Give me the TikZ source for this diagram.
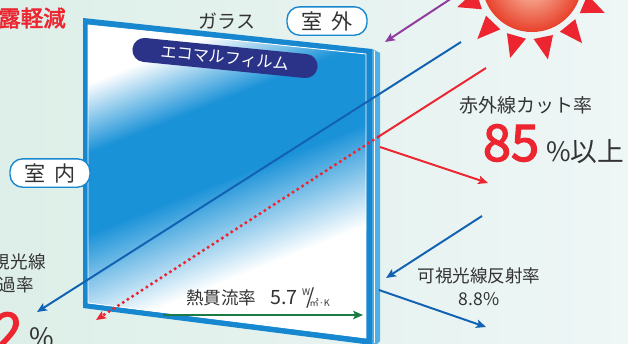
\documentclass[tikz,border=0pt]{standalone}
\usepackage{fontspec}
\usetikzlibrary{arrows.meta}
\newfontfamily\jp{Noto Sans CJK JP}
\newfontfamily\jpbold[FakeBold=2.5]{Noto Sans CJK JP}

\definecolor{bgleft}{HTML}{DDEFE8}
\definecolor{bgright}{HTML}{EEF6F6}
\definecolor{frameblue}{HTML}{1787D0}
\definecolor{sideblue}{HTML}{4FAEE4}
\definecolor{paneblue}{HTML}{1A92D8}
\definecolor{filmnavy}{HTML}{2B3388}
\definecolor{raypurple}{HTML}{8E3A9E}
\definecolor{rayblue}{HTML}{1262B4}
\definecolor{rayred}{HTML}{EC2530}
\definecolor{heatgreen}{HTML}{1B7A45}
\definecolor{sunred}{HTML}{E8402A}
\definecolor{sunlight}{HTML}{FBCDB5}
\definecolor{textgrey}{HTML}{333333}

% unit of the heat transfer value
\newcommand{\wpermk}{\raisebox{0.5em}{\fontsize{6.5}{6.5}\selectfont W}\kern-0.2em
  {\fontsize{15}{15}\selectfont /}\kern-0.3em\raisebox{-0.1em}{\fontsize{6.5}{6.5}\selectfont ㎡·K}}

\begin{document}
\begin{tikzpicture}[x=0.025cm, y=-0.025cm,
    every node/.style={font=\jp\fontsize{12.5}{14}\selectfont, text=textgrey, inner sep=0pt},
    placebox/.style={draw=frameblue, fill=white, line width=1pt, rounded corners=9pt,
      minimum width=2cm, minimum height=0.71cm, font=\jp\fontsize{15}{15}\selectfont},
    filmtag/.style={fill=filmnavy, text=white, rounded corners=0.3cm, minimum width=4.65cm,
      minimum height=0.6cm, rotate=-5.7, font=\jp\fontsize{11.5}{12}\selectfont},
    lightray/.style={line width=1.4pt, arrows={-Stealth[length=7pt,width=6pt,inset=1.5pt]}}]
        \useasboundingbox (0,0) rectangle (628,343);
        \clip (0,0) rectangle (628,343);
        \fill[left color=bgleft, right color=bgright] (0,0) rectangle (628,343);
        % Draw the sun and its rays
        \begin{scope}[shift={(532,-18)}]
          \shade[inner color=sunlight, outer color=sunred] (0,0) circle (1.25cm);
          \foreach \k [evaluate=\k as \a using 23+27.69*\k] in {0,...,12}
            \fill[rayred] (\a-10:57) -- (\a:79) -- (\a+10:57) -- cycle;
        \end{scope}
        % Draw the glass pane (side, frame, filmed face)
        \fill[sideblue] (372,49) -- (380,53) -- (380,341) -- (376,345) -- (372,345) -- cycle;
        \draw[white, line width=0.6pt] (374.5,51) -- (374.5,343);
        \fill[frameblue] (83,18) -- (372,49) -- (372,345) -- (83,308) -- cycle;
        \begin{scope}
          \clip (88,25) -- (366,54) -- (366,338) -- (88,303) -- cycle;
          \fill[white] (88,25) rectangle (366,338);
          % film fade, in thin strips across the face
          \foreach \p in {108,110,...,348} {
            \pgfmathsetmacro\c{max(0,min(100,(\p-110)/0.65,(345-\p)/0.95))}
            \fill[paneblue!\c!white] (60,{(\p-22.2)/0.93}) -- (400,{(\p-148)/0.93})
              -- (400,{(\p-145.4)/0.93}) -- (60,{(\p-19.6)/0.93}) -- cycle;
          }
        \end{scope}
        \draw[white, line width=0.6pt] (88,25) -- (366,54) -- (366,338) -- (88,303) -- cycle;
        % Labels on and around the pane
        \node (glass) at (227,21) {\fontsize{13.5}{14}\selectfont ガラス};
        \node[placebox] (outside) at (327,21) {室\hspace{6pt}外};
        \node[placebox] (inside) at (50,173) {室\hspace{6pt}内};
        \node[filmtag] (film) at (225,58) {エコマルフィルム};
        \node[anchor=east, text=rayred, font=\jpbold\fontsize{16}{16}\selectfont] (fog) at (66,18) {露軽減};
        % Incoming rays (use arrows command to insert arrow of choice)
        \coordinate (uv-start) at (452,-2);
        \coordinate (uv-end) at (385,42);
        \draw[lightray, raypurple] (uv-start) -- (uv-end);
        \coordinate (vis-start) at (461,42);
        \coordinate (vis-end) at (37,312);
        \draw[lightray, rayblue] (vis-start) -- (vis-end);
        \coordinate (ir-start) at (486,68);
        \coordinate (ir-hit) at (378,137);
        \coordinate (ir-end) at (96,320);
        \draw[rayred, line width=1.4pt] (ir-start) -- (ir-hit);
        \draw[rayred, line width=2.5pt, line cap=round, dash pattern=on 0pt off 4pt,
          arrows={-Stealth[length=7pt,width=6pt,inset=1.5pt]}] (ir-hit) -- (ir-end);
        % Reflected rays
        \coordinate (ir-back) at (380,147);
        \coordinate (ir-out) at (488,183);
        \draw[lightray, rayred] (ir-back) -- (ir-out);
        \coordinate (vis-in) at (482,216);
        \coordinate (vis-hit) at (386,278);
        \draw[lightray, rayblue] (vis-in) -- (vis-hit);
        \coordinate (vis-back) at (379,290);
        \coordinate (vis-out) at (486,327);
        \draw[lightray, rayblue] (vis-back) -- (vis-out);
        % Heat flow through the pane
        \coordinate (heat-start) at (163,315);
        \coordinate (heat-end) at (363,315);
        \draw[lightray, heatgreen] (heat-start) -- (heat-end);
        \node (heat-label) at (258,298) {熱貫流率\hspace{10pt}{\fontsize{14}{14}\selectfont 5.7}\hspace{3pt}\wpermk};
        % Values on the outside
        \node (ir-label) at (526,105) {\fontsize{13.5}{14}\selectfont 赤外線カット率};
        \node[font=\jpbold\fontsize{36}{36}\selectfont, text=rayred] (ir-value) at (511,143) {85};
        \node[anchor=west, font=\jp\fontsize{19}{19}\selectfont] (ir-unit) at (546,152) {\%以上};
        \node (refl-label) at (479,276) {可視光線反射率};
        \node (refl-value) at (479,299) {8.8\%};
        % Values on the inside
        \node[anchor=east] (trans-label) at (46,262) {視光線};
        \node[anchor=east] (trans-rate) at (34,285) {過率};
        \node[anchor=base east, text=rayred, font=\jpbold\fontsize{36}{36}\selectfont] (trans-value) at (23,349) {2};
        \node[anchor=base west, font=\jp\fontsize{19}{19}\selectfont] (trans-unit) at (29,347) {\%};
\end{tikzpicture}
\end{document}
